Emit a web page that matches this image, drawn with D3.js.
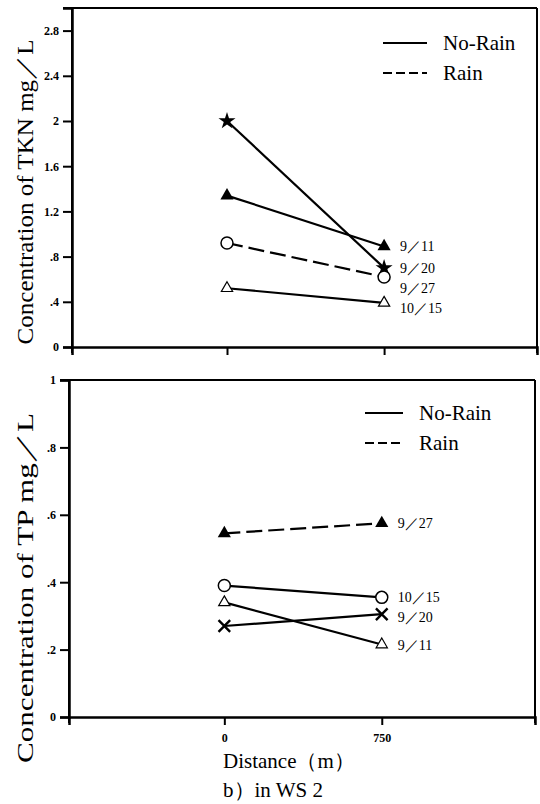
<!DOCTYPE html>
<html>
<head>
<meta charset="utf-8">
<script src="https://cdn.jsdelivr.net/npm/d3@7"></script>
<style>
  html, body { margin: 0; padding: 0; background: #fff; }
  svg { display: block; }
  text { font-family: "Liberation Serif", "DejaVu Serif", serif; fill: #000; }
</style>
</head>
<body>
<svg id="chart" width="540" height="804"></svg>
<script>
// ---------- data ----------
const distances = [0, 750];
const xTickValues = [0, 750];
const xTickLabels = ["0", "750"];

const tknDates   = ["9／11", "9／20", "9／27", "10／15"];
const tknValues  = [[1.34, 0.89], [2.0, 0.70], [0.92, 0.62], [0.52, 0.39]];
const tknRain    = [false, false, true, false];
const tknMarkers = ["triangleFilled", "star", "circle", "triangleOpen"];
const tknTicks      = [0, 0.4, 0.8, 1.2, 1.6, 2.0, 2.4, 2.8];
const tknTickLabels = ["0", ".4", ".8", "1.2", "1.6", "2", "2.4", "2.8"];

const tpDates   = ["9／27", "10／15", "9／20", "9／11"];
const tpValues  = [[0.545, 0.575], [0.39, 0.355], [0.27, 0.305], [0.34, 0.215]];
const tpRain    = [true, false, false, false];
const tpMarkers = ["triangleFilled", "circle", "cross", "triangleOpen"];
const tpTicks      = [0, 0.2, 0.4, 0.6, 0.8, 1.0];
const tpTickLabels = ["0", ".2", ".4", ".6", ".8", "1"];

const legendLabels = ["No-Rain", "Rain"];
const xTitle = "Distance（m）";
const caption = "b）in WS 2";

// ---------- drawing ----------
const svg = d3.select("#chart");
const xDomain = [-740, 1480];

function drawPanel(cfg) {
  const g = svg.append("g");
  const x = d3.scaleLinear().domain(xDomain).range([cfg.left, cfg.right]);
  const y = d3.scaleLinear().domain([0, cfg.yMax]).range([cfg.bottom, cfg.top]);

  // frame
  const frame = g.append("g").attr("stroke", "#000").attr("stroke-width", 2).attr("fill", "none");
  frame.append("line").attr("x1", cfg.left - 9).attr("x2", cfg.right).attr("y1", cfg.top).attr("y2", cfg.top);
  frame.append("line").attr("x1", cfg.right).attr("x2", cfg.right).attr("y1", cfg.top).attr("y2", cfg.bottom + 6);
  frame.append("line").attr("x1", cfg.left).attr("x2", cfg.left).attr("y1", cfg.top).attr("y2", cfg.bottom + 6);

  // y axis
  const yAxis = d3.axisLeft(y).tickValues(cfg.ticks)
    .tickFormat((d, i) => cfg.tickLabels[i]).tickSize(9).tickPadding(4);
  const ya = g.append("g").attr("transform", `translate(${cfg.left},0)`).call(yAxis);
  ya.select(".domain").attr("stroke-width", 2.5);
  ya.selectAll(".tick line").attr("stroke-width", 2);
  ya.selectAll(".tick text").attr("font-size", 12).attr("font-weight", "bold")
    .attr("font-family", "Liberation Serif");

  // x axis
  const xAxis = d3.axisBottom(x).tickValues(xTickValues)
    .tickFormat((d, i) => cfg.showXLabels ? xTickLabels[i] : "").tickSize(8).tickPadding(8);
  const xa = g.append("g").attr("transform", `translate(0,${cfg.bottom})`).call(xAxis);
  xa.select(".domain").attr("stroke-width", 2.5);
  xa.selectAll(".tick line").attr("stroke-width", 2);
  xa.selectAll(".tick text").attr("font-size", 12).attr("font-weight", "bold")
    .attr("font-family", "Liberation Serif");

  // series lines
  const line = d3.line().x((d, i) => x(distances[i])).y(d => y(d));
  cfg.values.forEach((vals, k) => {
    g.append("path").datum(vals).attr("d", line)
      .attr("fill", "none").attr("stroke", "#000").attr("stroke-width", 2.2)
      .attr("stroke-dasharray", cfg.rain[k] ? "16,6" : null);
  });

  // markers
  cfg.values.forEach((vals, k) => {
    vals.forEach((v, i) => {
      const px = x(distances[i]), py = y(v);
      const m = cfg.markers[k];
      if (m === "circle") {
        g.append("circle").attr("cx", px).attr("cy", py).attr("r", 6)
          .attr("fill", "#fff").attr("stroke", "#000").attr("stroke-width", 1.5);
      } else if (m === "triangleFilled") {
        g.append("path").attr("d", d3.symbol(d3.symbolTriangle, 75)())
          .attr("transform", `translate(${px},${py})`).attr("fill", "#000");
      } else if (m === "triangleOpen") {
        g.append("path").attr("d", d3.symbol(d3.symbolTriangle, 55)())
          .attr("transform", `translate(${px},${py})`)
          .attr("fill", "#fff").attr("stroke", "#000").attr("stroke-width", 1.2);
      } else if (m === "star") {
        g.append("path").attr("d", d3.symbol(d3.symbolStar, 90)())
          .attr("transform", `translate(${px},${py})`).attr("fill", "#000");
      } else if (m === "cross") {
        g.append("path").attr("d", d3.symbol(d3.symbolX, 90)())
          .attr("transform", `translate(${px},${py})`)
          .attr("fill", "none").attr("stroke", "#000").attr("stroke-width", 2.4);
      }
    });
  });

  // date labels (nudged apart vertically)
  const order = cfg.values.map((v, k) => ({ k, y: y(v[1]) })).sort((a, b) => a.y - b.y);
  for (let i = 1; i < order.length; i++) {
    if (order[i].y - order[i - 1].y < 20) order[i].y = order[i - 1].y + 20;
  }
  order.forEach(o => {
    g.append("text").attr("x", x(distances[1]) + 16).attr("y", o.y)
      .attr("dy", "0.36em").attr("font-size", 14).text(cfg.dates[o.k]);
  });

  // legend
  const lg = g.append("g");
  legendLabels.forEach((lab, i) => {
    const ly = cfg.legendY + i * 30;
    lg.append("line").attr("x1", cfg.legendX).attr("x2", cfg.legendX + cfg.legendLen)
      .attr("y1", ly).attr("y2", ly).attr("stroke", "#000").attr("stroke-width", 2)
      .attr("stroke-dasharray", i === 1 ? "9,4" : null);
    lg.append("text").attr("x", cfg.legendX + cfg.legendLen + 16).attr("y", ly)
      .attr("dy", "0.33em").attr("font-size", 21).text(lab);
  });

  // y title
  g.append("text").attr("transform", `translate(${cfg.titleX},${cfg.titleY}) rotate(-90)`)
    .attr("text-anchor", "middle").attr("font-size", 23)
    .attr("textLength", cfg.titleLen).attr("lengthAdjust", "spacingAndGlyphs")
    .text(cfg.title);
}

drawPanel({
  left: 72, right: 537, top: 8, bottom: 347, yMax: 3,
  ticks: tknTicks, tickLabels: tknTickLabels, showXLabels: false,
  values: tknValues, rain: tknRain, markers: tknMarkers, dates: tknDates,
  legendX: 383, legendLen: 44, legendY: 43,
  title: "Concentration of TKN mg／L", titleX: 33, titleY: 192, titleLen: 305
});

drawPanel({
  left: 69, right: 535, top: 380, bottom: 717, yMax: 1,
  ticks: tpTicks, tickLabels: tpTickLabels, showXLabels: true,
  values: tpValues, rain: tpRain, markers: tpMarkers, dates: tpDates,
  legendX: 365, legendLen: 38, legendY: 413,
  title: "Concentration of TP mg／L", titleX: 33, titleY: 588, titleLen: 350
});

svg.append("text").attr("x", 223).attr("y", 768).attr("font-size", 21).text(xTitle);
svg.append("text").attr("x", 223).attr("y", 797).attr("font-size", 21).text(caption);
</script>
</body>
</html>
